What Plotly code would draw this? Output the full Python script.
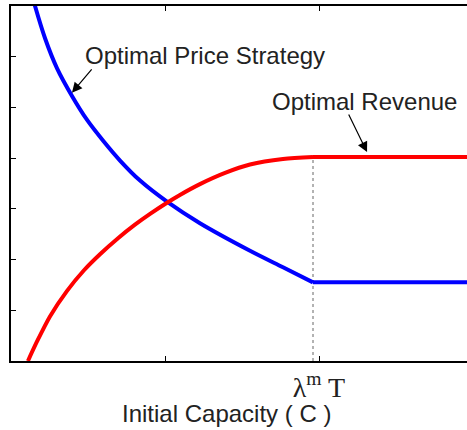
import plotly.graph_objects as go

# Values (x ticks at 1 and 2, y axis 0..7)
price_x = [0.130, 0.156, 0.221, 0.299, 0.396, 0.494, 0.597, 0.708, 0.838, 1.013, 1.227, 1.552, 1.766, 1.961, 2.961]
price_y = [7.29, 7.00, 6.364, 5.771, 5.227, 4.753, 4.348, 3.953, 3.557, 3.142, 2.717, 2.174, 1.848, 1.551, 1.551]
rev_x = [0.110, 0.169, 0.253, 0.364, 0.474, 0.578, 0.695, 0.805, 0.903, 1.013, 1.097, 1.227, 1.390, 1.552, 1.766, 1.961, 2.961]
rev_y = [0.0, 0.385, 0.879, 1.383, 1.789, 2.105, 2.421, 2.688, 2.901, 3.121, 3.275, 3.488, 3.709, 3.874, 3.984, 4.024, 4.024]
kink_x = 1.961
kink_top = 4.024
x_ticks = [1, 2]
x_ticktext = ["", "λ<sup>m</sup> T"]
y_ticks = [1, 2, 3, 4, 5, 6]

fig = go.Figure()
fig.add_trace(go.Scatter(x=[kink_x, kink_x], y=[0, kink_top], mode="lines",
                         line=dict(color="#666666", width=1, dash="dot"), showlegend=False))
# curved part (smooth) and flat part of each series
for xs, ys, col in [(price_x, price_y, "#0000ff"), (rev_x, rev_y, "#ff0000")]:
    fig.add_trace(go.Scatter(x=xs[:-1], y=ys[:-1], mode="lines",
                             line=dict(color=col, width=4, shape="spline", smoothing=0.8),
                             showlegend=False))
    fig.add_trace(go.Scatter(x=xs[-2:], y=ys[-2:], mode="lines",
                             line=dict(color=col, width=4), showlegend=False))

txt = "#222222"
fig.update_layout(
    width=467, height=430,
    margin=dict(l=11, r=0, t=6, b=69),
    plot_bgcolor="white", paper_bgcolor="white",
    font=dict(family="Liberation Sans, Arial", color=txt),
    annotations=[
        dict(x=0.396, y=5.29, xref="x", yref="y", ax=0.532, ay=5.78, axref="x", ayref="y",
             text="", showarrow=True, arrowhead=2, arrowsize=1.7, arrowwidth=1.2, arrowcolor="black"),
        dict(x=0.468, y=6.03, xref="x", yref="y", xanchor="left", yanchor="middle",
             text="Optimal Price Strategy", showarrow=False, font=dict(size=24, color=txt)),
        dict(x=2.312, y=4.12, xref="x", yref="y", ax=2.188, ay=4.89, axref="x", ayref="y",
             text="", showarrow=True, arrowhead=2, arrowsize=1.7, arrowwidth=1.2, arrowcolor="black"),
        dict(x=1.682, y=5.11, xref="x", yref="y", xanchor="left", yanchor="middle",
             text="Optimal Revenue", showarrow=False, font=dict(size=24, color=txt)),
        dict(x=0.4715, y=-0.148, xref="paper", yref="paper", xanchor="center", yanchor="middle",
             text="Initial Capacity ( C )", showarrow=False, font=dict(size=24, color=txt)),
    ],
    xaxis=dict(range=[0, 2.961], tickvals=x_ticks, ticktext=x_ticktext, ticks="inside", ticklen=5,
               tickcolor="black", tickwidth=1, showline=True, linecolor="black", linewidth=2,
               mirror="ticks", showgrid=False, zeroline=False, automargin=False,
               tickfont=dict(family="Liberation Serif, Times New Roman", size=28, color=txt)),
    yaxis=dict(range=[0, 7], tickvals=y_ticks, showticklabels=False, ticks="inside", ticklen=5,
               tickcolor="black", tickwidth=1, showline=True, linecolor="black", linewidth=2,
               showgrid=False, zeroline=False, automargin=False),
)
fig.write_html("out.html", config={"displayModeBar": False},
               post_script="document.body.style.margin='0';")
